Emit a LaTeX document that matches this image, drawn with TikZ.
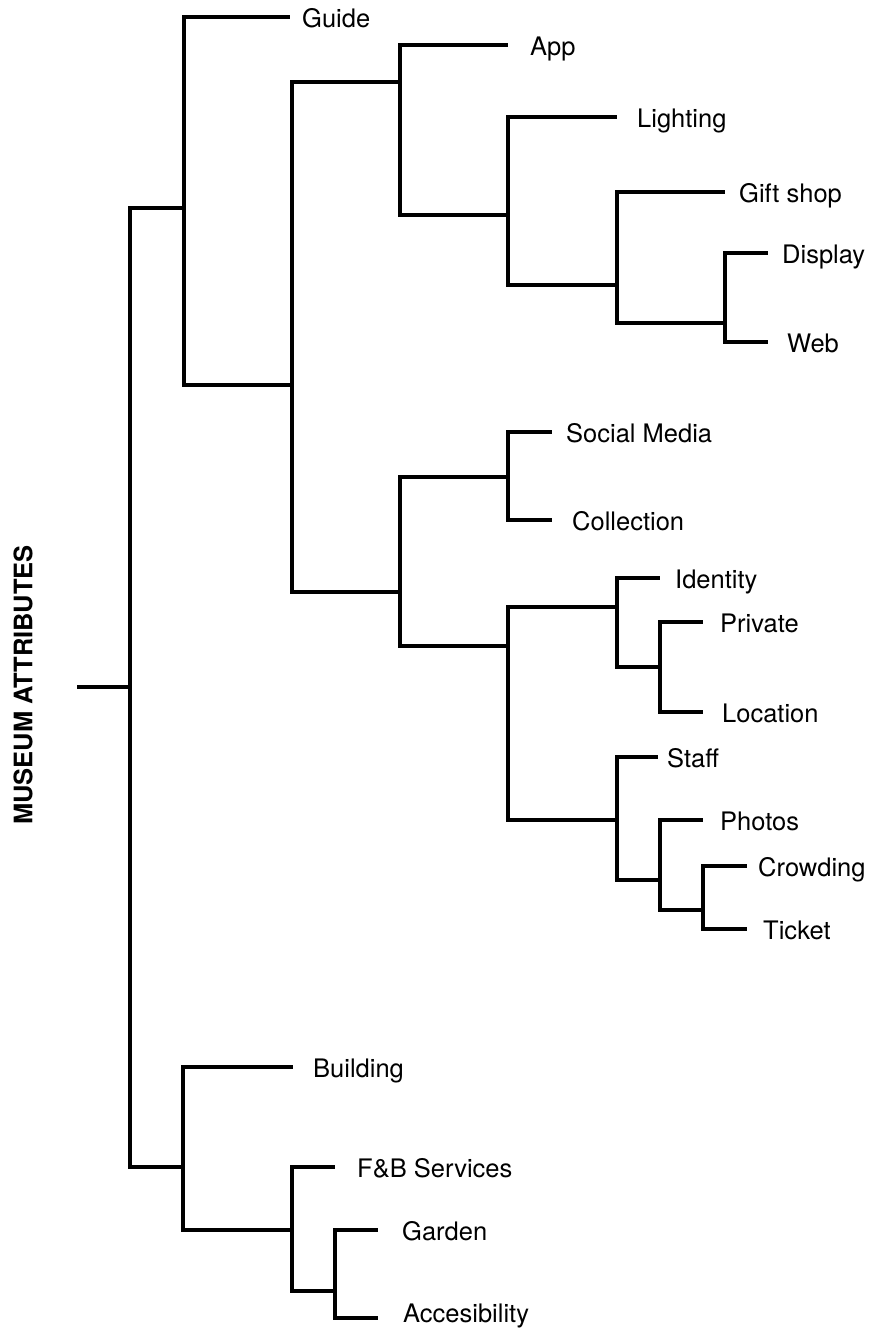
\documentclass[tikz,border=0pt]{standalone}
\usepackage{fontspec}
\setmainfont{TeX Gyre Heros}
\begin{document}
\begin{tikzpicture}[x=1pt,y=-1pt,
  branch/.style={line width=3.3pt,line join=miter},
  leaf/.style={anchor=base west,inner sep=0pt,font=\fontsize{25.5}{30}\selectfont},
  title/.style={inner sep=0pt,rotate=90,font=\fontsize{25.5}{30}\selectfont\bfseries}]
\useasboundingbox[fill=white] (0,0) rectangle (870,1328);

% vertical caption
\node[title] (caption) at (23,685) {MUSEUM ATTRIBUTES};

% root and internal junctions (x of vertical bar, y where parent meets it)
\coordinate (stub) at (77,687);
\coordinate (root) at (130,687);
\coordinate (n1)  at (184,208);
\coordinate (n2)  at (183,1167);
\coordinate (n3)  at (292,385);
\coordinate (n4)  at (400,82);
\coordinate (n5)  at (400,592);
\coordinate (n6)  at (508,215);
\coordinate (n7)  at (617,285);
\coordinate (n8)  at (725,323);
\coordinate (n9)  at (508,477);
\coordinate (n10) at (508,646);
\coordinate (n11) at (617,607);
\coordinate (n12) at (617,820);
\coordinate (n13) at (660,667);
\coordinate (n14) at (660,880);
\coordinate (n15) at (703,910);
\coordinate (n16) at (292,1230);
\coordinate (n17) at (335,1291);

% leaf line ends
\coordinate (guide-e)    at (290,17);
\coordinate (app-e)      at (508,45);
\coordinate (light-e)    at (617,117);
\coordinate (gift-e)     at (725,192);
\coordinate (display-e)  at (768,253);
\coordinate (web-e)      at (768,342);
\coordinate (social-e)   at (552,432);
\coordinate (coll-e)     at (552,520);
\coordinate (ident-e)    at (660,578);
\coordinate (priv-e)     at (703,622);
\coordinate (loc-e)      at (703,712);
\coordinate (staff-e)    at (658,757);
\coordinate (photo-e)    at (703,820);
\coordinate (crowd-e)    at (747,866);
\coordinate (ticket-e)   at (747,929);
\coordinate (build-e)    at (293,1067);
\coordinate (fb-e)       at (335,1167);
\coordinate (garden-e)   at (378,1230);
\coordinate (access-e)   at (378,1318);

% leaf labels
\node[leaf] (guide)   at (302,27)   {Guide};
\node[leaf] (app)     at (530,55)   {App};
\node[leaf] (light)   at (637,127)  {Lighting};
\node[leaf] (gift)    at (739,202)  {Gift shop};
\node[leaf] (display) at (782,263)  {Display};
\node[leaf] (web)     at (787,352)  {Web};
\node[leaf] (social)  at (566,442)  {Social Media};
\node[leaf] (coll)    at (572,530)  {Collection};
\node[leaf] (ident)   at (675,588)  {Identity};
\node[leaf] (priv)    at (720,632)  {Private};
\node[leaf] (loc)     at (722,722)  {Location};
\node[leaf] (staff)   at (667,767)  {Staff};
\node[leaf] (photo)   at (720,830)  {Photos};
\node[leaf] (crowd)   at (758,876)  {Crowding};
\node[leaf] (ticket)  at (763,939)  {Ticket};
\node[leaf] (build)   at (313,1077) {Building};
\node[leaf] (fb)      at (357,1177) {F\&B Services};
\node[leaf] (garden)  at (402,1240) {Garden};
\node[leaf] (access)  at (403,1322) {Accesibility};

% branches
\draw[branch] (stub) -- (root);
\draw[branch] (root) |- (n1);
\draw[branch] (root) |- (n2);
\draw[branch] (n1) |- (guide-e);
\draw[branch] (n1) |- (n3);
\draw[branch] (n3) |- (n4);
\draw[branch] (n3) |- (n5);
\draw[branch] (n4) |- (app-e);
\draw[branch] (n4) |- (n6);
\draw[branch] (n6) |- (light-e);
\draw[branch] (n6) |- (n7);
\draw[branch] (n7) |- (gift-e);
\draw[branch] (n7) |- (n8);
\draw[branch] (n8) |- (display-e);
\draw[branch] (n8) |- (web-e);
\draw[branch] (n5) |- (n9);
\draw[branch] (n5) |- (n10);
\draw[branch] (n9) |- (social-e);
\draw[branch] (n9) |- (coll-e);
\draw[branch] (n10) |- (n11);
\draw[branch] (n10) |- (n12);
\draw[branch] (n11) |- (ident-e);
\draw[branch] (n11) |- (n13);
\draw[branch] (n13) |- (priv-e);
\draw[branch] (n13) |- (loc-e);
\draw[branch] (n12) |- (staff-e);
\draw[branch] (n12) |- (n14);
\draw[branch] (n14) |- (photo-e);
\draw[branch] (n14) |- (n15);
\draw[branch] (n15) |- (crowd-e);
\draw[branch] (n15) |- (ticket-e);
\draw[branch] (n2) |- (build-e);
\draw[branch] (n2) |- (n16);
\draw[branch] (n16) |- (fb-e);
\draw[branch] (n16) |- (n17);
\draw[branch] (n17) |- (garden-e);
\draw[branch] (n17) |- (access-e);
\end{tikzpicture}
\end{document}
